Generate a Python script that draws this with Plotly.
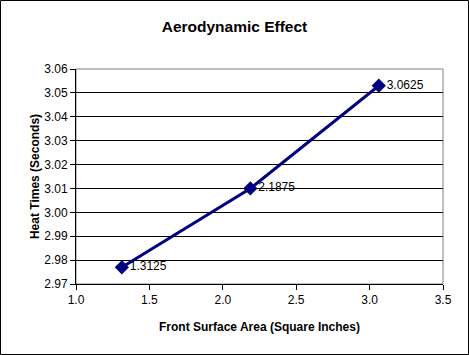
import plotly.graph_objects as go

area = [1.3125, 2.1875, 3.0625]
heat_times = [2.977, 3.010, 3.053]
labels = ["1.3125", "2.1875", "3.0625"]

W, H = 469, 355
L, R, T, B = 76, 26, 69, 71
pw, ph = W - L - R, H - T - B
FONT = "Liberation Sans, Arial"

fig = go.Figure()
fig.add_trace(go.Scatter(
    x=area, y=heat_times, mode="lines+markers+text",
    line=dict(color="#000080", width=3),
    marker=dict(symbol="diamond", size=11, color="#000080"),
    text=labels, textposition="middle right",
    textfont=dict(family=FONT, size=12, color="black"),
    cliponaxis=False, showlegend=False,
))

fig.update_layout(
    width=W, height=H,
    margin=dict(l=L, r=R, t=T, b=B, pad=0),
    paper_bgcolor="white", plot_bgcolor="white",
    font=dict(family=FONT, size=12, color="black"),
    title=dict(text="<b>Aerodynamic Effect</b>", x=0.5, xanchor="center", y=1 - 27 / H, yanchor="middle",
               font=dict(size=15.5, family=FONT, color="black")),
    xaxis=dict(range=[1.0, 3.5], dtick=0.5, tickformat=".1f", showgrid=False, zeroline=False,
               showline=True, linecolor="black", linewidth=1, ticks="outside", ticklen=5,
               tickcolor="black", tickfont=dict(size=12),
               title=dict(text="<b>Front Surface Area (Square Inches)</b>", font=dict(size=12), standoff=16)),
    yaxis=dict(range=[2.97, 3.06], dtick=0.01, tickformat=".2f", showgrid=True, gridcolor="black",
               gridwidth=1, zeroline=False, showline=True, linecolor="black", linewidth=1,
               ticks="outside", ticklen=5, tickcolor="black", tickfont=dict(size=12),
               title=dict(text="<b>Heat Times (Seconds)</b>", font=dict(size=12), standoff=2)),
)

# plot area border (gray top/right)
fig.add_shape(type="rect", xref="paper", yref="paper", x0=0, x1=1, y0=0, y1=1,
              line=dict(color="#808080", width=1), layer="below")
# chart outer border
fig.add_shape(type="rect", xref="paper", yref="paper",
              x0=(-L + 0.5) / pw, x1=(W - L - 0.5) / pw,
              y0=(-B + 0.5) / ph, y1=(H - B - 0.5) / ph,
              line=dict(color="black", width=1))

fig.write_html("out.html", config={"displayModeBar": False},
               post_script="document.body.style.margin='0';document.body.style.overflow='hidden';")
